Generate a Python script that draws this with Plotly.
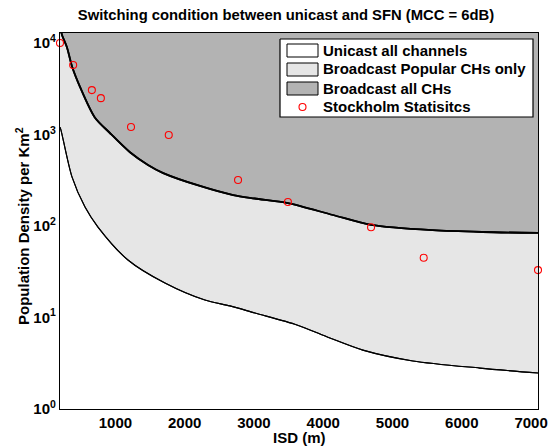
import plotly.graph_objects as go

# ---- data ----
upper_x = [200, 230, 300, 375, 490, 700, 920, 1210, 1470, 1690, 2220, 2700, 3010, 3490, 4140, 4690, 5580, 6300, 7100]
upper_y = [15000, 12200, 9000, 5500, 3300, 1550, 1040, 640, 465, 379, 274, 218, 200, 178, 132, 103, 90, 86, 84]

lower_x = [200, 214, 373, 561, 748, 1181, 1715, 2292, 2653, 3014, 3620, 4096, 4572, 5294, 6260, 7100]
lower_y = [1200, 1120, 344, 161, 97.5, 42.5, 23.8, 15.5, 13.4, 11.2, 8.3, 5.97, 4.4, 3.35, 2.8, 2.47]

stock_x = [200, 390, 660, 790, 1225, 1770, 2770, 3490, 4690, 5450, 7100]
stock_y = [10000, 5750, 3060, 2500, 1210, 990, 318, 183, 97, 45, 33]

y_tickvals = [1, 10, 100, 1000, 10000]
y_ticktext = ["10<sup>0</sup>", "10<sup>1</sup>", "10<sup>2</sup>", "10<sup>3</sup>", "10<sup>4</sup>"]
x_tickvals = [1000, 2000, 3000, 4000, 5000, 6000, 7000]

legend_names = ["Unicast all channels", "Broadcast Popular CHs only", "Broadcast all CHs", "Stockholm Statisitcs"]
C_WHITE, C_LIGHT, C_DARK = "#ffffff", "#e6e6e6", "#b3b3b3"
RED = "#ff0000"
FONT = "Liberation Sans"

X_MIN, X_MAX = 200, 7100
Y_TOP = 1e5

fig = go.Figure()

# lower boundary (white region below is the background)
fig.add_trace(go.Scatter(x=lower_x, y=lower_y, mode="lines", line_shape="spline",
                         line=dict(color="black", width=1.1, smoothing=0.8),
                         hoverinfo="skip", showlegend=False))
# light region between curves
fig.add_trace(go.Scatter(x=upper_x, y=upper_y, mode="lines", line_shape="spline",
                         fill="tonexty", fillcolor=C_LIGHT,
                         line=dict(color="black", width=1.8, smoothing=0.8),
                         hoverinfo="skip", showlegend=False))
# dark region above upper curve
fig.add_trace(go.Scatter(x=[X_MIN, X_MAX], y=[Y_TOP, Y_TOP], mode="lines",
                         fill="tonexty", fillcolor=C_DARK, line=dict(width=0),
                         hoverinfo="skip", showlegend=False))
# redraw boundaries on top of fills
fig.add_trace(go.Scatter(x=upper_x, y=upper_y, mode="lines", line_shape="spline",
                         line=dict(color="black", width=1.8, smoothing=0.8),
                         hoverinfo="skip", showlegend=False))
fig.add_trace(go.Scatter(x=lower_x, y=lower_y, mode="lines", line_shape="spline",
                         line=dict(color="black", width=1.1, smoothing=0.8),
                         hoverinfo="skip", showlegend=False))
# Stockholm statistics
fig.add_trace(go.Scatter(x=stock_x, y=stock_y, mode="markers", name=legend_names[3],
                         marker=dict(symbol="circle-open", size=7, color=RED,
                                     line=dict(width=1.1, color=RED)),
                         cliponaxis=False, showlegend=False))

# ---- MATLAB-style legend drawn on an overlay axis (0..1 over the plot area) ----
PL, PR, PT, PB = 60, 538, 33, 409
def px(x):
    return (x - PL) / (PR - PL)
def py(y):
    return (PB - y) / (PB - PT)

def rect(x0, x1, y0, y1, fillcolor, lw):
    fig.add_trace(go.Scatter(
        x=[px(x0), px(x1), px(x1), px(x0), px(x0)],
        y=[py(y0), py(y0), py(y1), py(y1), py(y0)],
        xaxis="x2", yaxis="y2", mode="lines", fill="toself", fillcolor=fillcolor,
        line=dict(color="black", width=lw), hoverinfo="skip", showlegend=False))

rect(280, 533, 39, 117, "white", 1.2)
row_y = [50, 69, 88, 107]
swatch_colors = [C_WHITE, C_LIGHT, C_DARK]
annotations = []
for i, name in enumerate(legend_names):
    yc = row_y[i]
    if i < 3:
        rect(287, 318, yc - 6, yc + 7, swatch_colors[i], 1)
    annotations.append(dict(xref="paper", yref="paper", x=px(321), y=py(yc),
                            text="<b>%s</b>" % name, showarrow=False,
                            xanchor="left", yanchor="middle",
                            font=dict(size=15, color="black", family=FONT)))
fig.add_trace(go.Scatter(x=[px(302.5)], y=[py(107)], xaxis="x2", yaxis="y2", mode="markers",
                         marker=dict(symbol="circle-open", size=7, color=RED,
                                     line=dict(width=1.1, color=RED)),
                         showlegend=False, hoverinfo="skip"))

# axis titles as annotations (placed like the MATLAB original)
annotations.append(dict(xref="paper", yref="paper", x=0.5, y=py(437),
                        text="<b>ISD (m)</b>", showarrow=False,
                        xanchor="center", yanchor="middle",
                        font=dict(size=15, color="black", family=FONT)))
annotations.append(dict(xref="paper", yref="paper", x=px(22), y=py(226),
                        text="<b>Population Density per Km<sup>2</sup></b>", showarrow=False,
                        textangle=-90, xanchor="center", yanchor="middle",
                        font=dict(size=15, color="black", family=FONT)))

fig.update_layout(
    width=549, height=446,
    margin=dict(l=PL, r=549 - PR, t=PT, b=446 - PB, autoexpand=False),
    paper_bgcolor="white", plot_bgcolor="white",
    font=dict(family=FONT, size=15, color="black"),
    showlegend=False,
    title=dict(text="<b>Switching condition between unicast and SFN (MCC = 6dB)</b>",
               x=286 / 549, xanchor="center", y=1 - 15 / 446, yanchor="middle",
               font=dict(size=14.8, family=FONT, color="black")),
    annotations=annotations,
    xaxis2=dict(overlaying="x", range=[0, 1], visible=False, automargin=False),
    yaxis2=dict(overlaying="y", range=[0, 1], visible=False, automargin=False),
    xaxis=dict(range=[X_MIN, X_MAX], tickvals=x_tickvals, automargin=False,
               ticktext=["<b>%d</b>" % v for v in x_tickvals],
               showgrid=False, zeroline=False, ticks="",
               showline=True, mirror=True, linecolor="black", linewidth=1.3,
               tickfont=dict(size=15, family=FONT, color="black")),
    yaxis=dict(type="log", range=[0, 4.11], tickvals=y_tickvals, automargin=False,
               ticktext=["<b>%s</b>" % t for t in y_ticktext],
               showgrid=False, zeroline=False, ticks="",
               showline=True, mirror=True, linecolor="black", linewidth=1.3,
               tickfont=dict(size=15, family=FONT, color="black")),
)

fig.write_html("out.html", config={"displayModeBar": False},
               post_script="document.body.style.margin='0';document.body.style.padding='0';")
